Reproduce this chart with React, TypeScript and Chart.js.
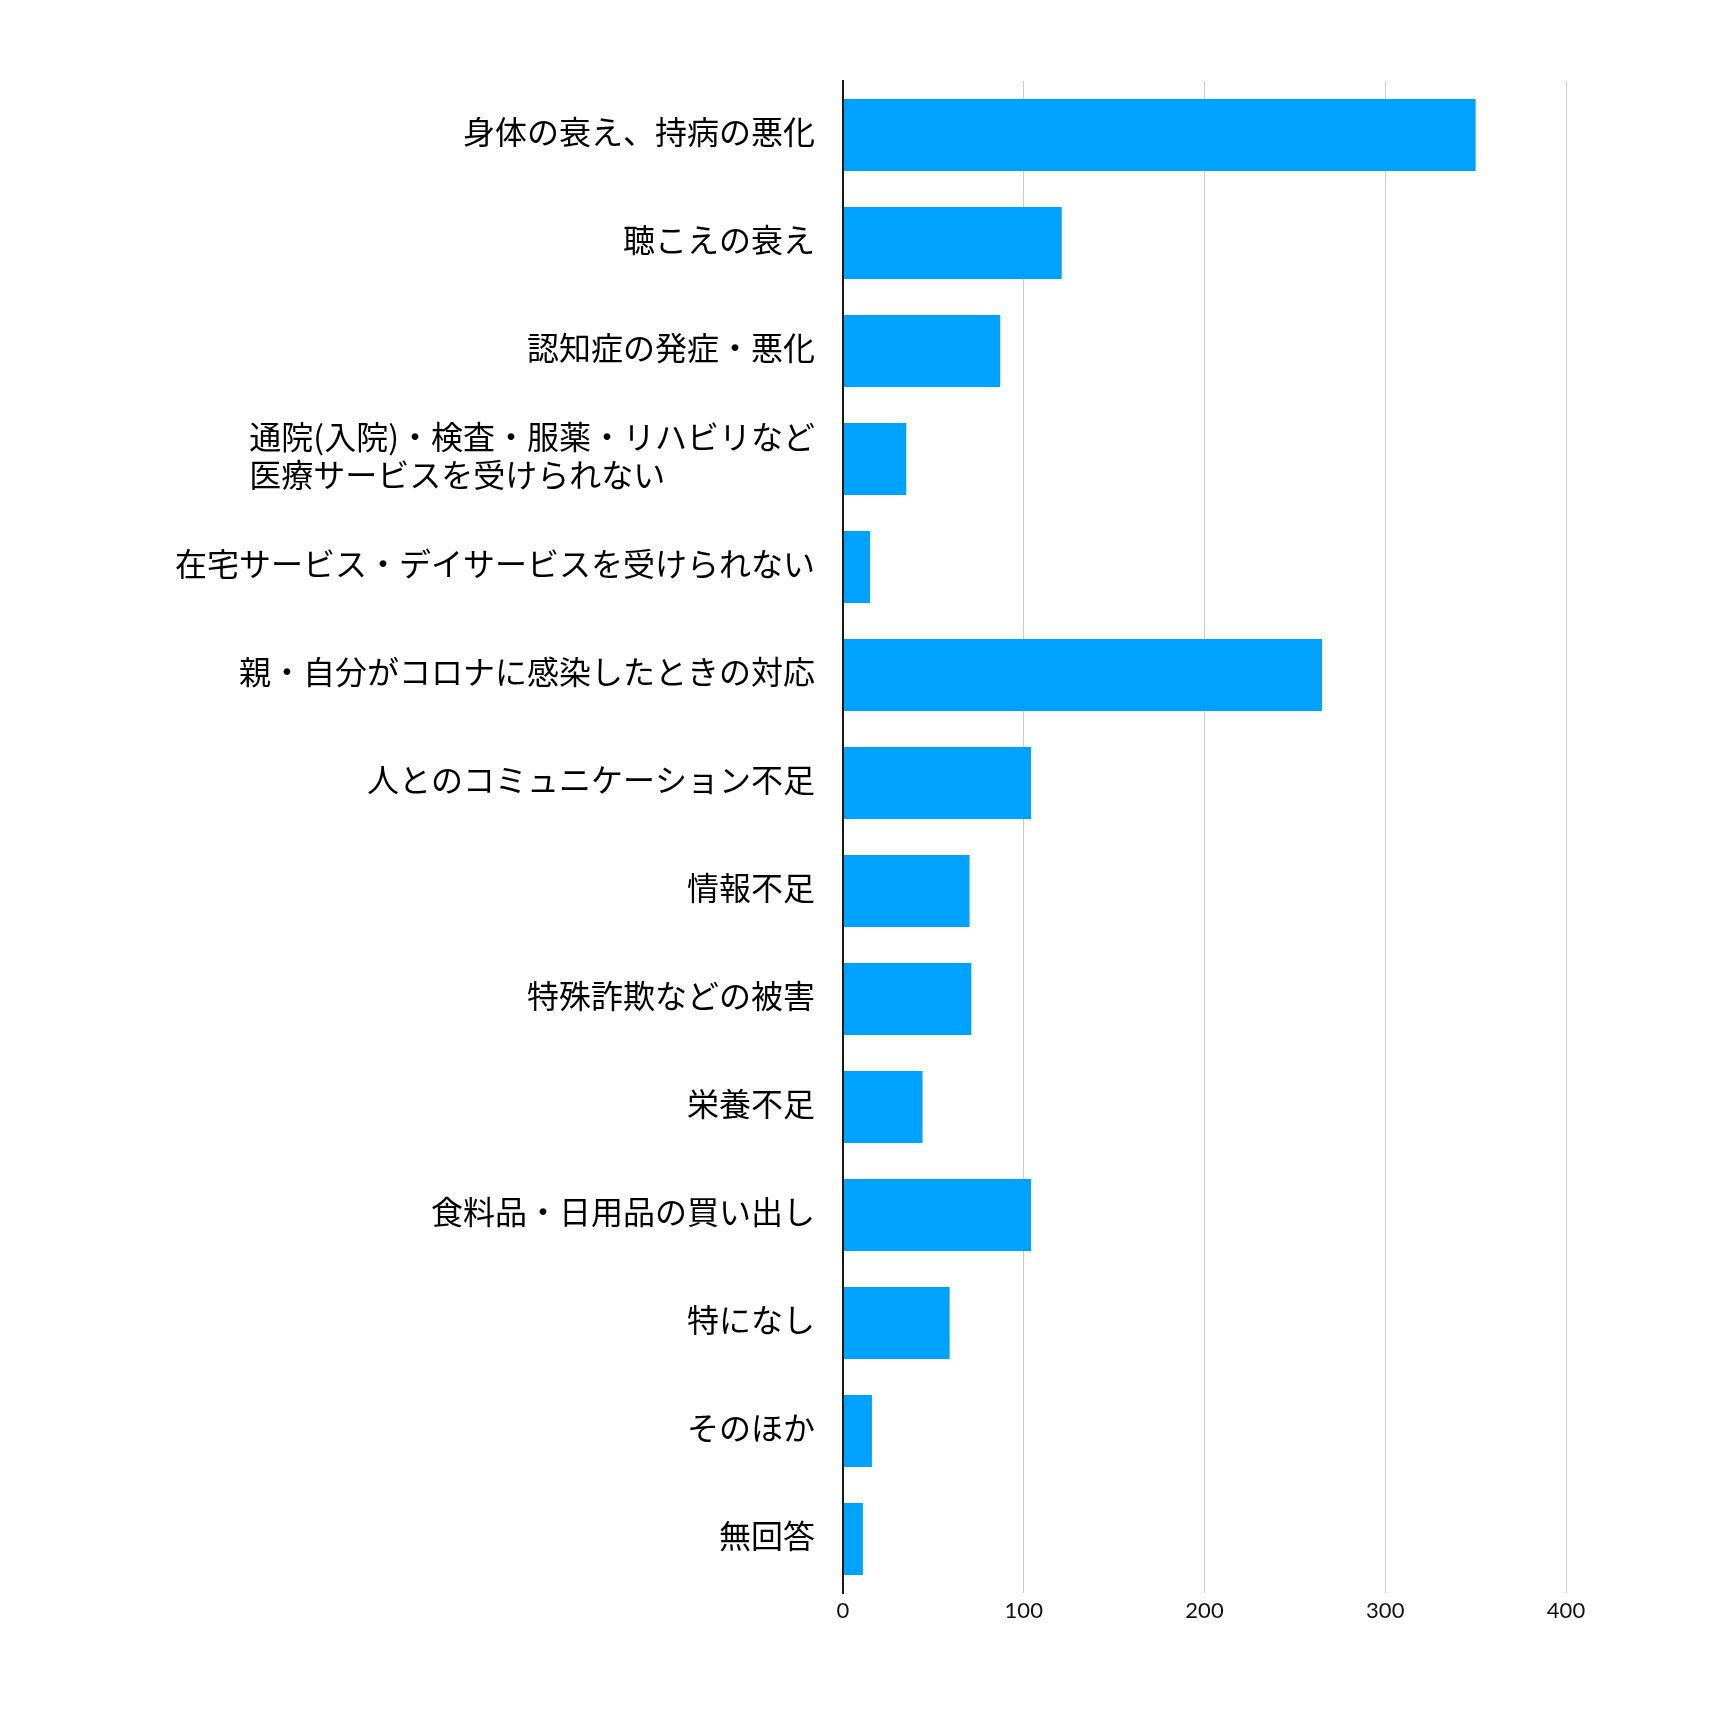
import React, { useEffect, useRef } from "react";
import { Chart, registerables } from "chart.js";

Chart.register(...registerables);

const categories: string[] = [
  "身体の衰え、持病の悪化",
  "聴こえの衰え",
  "認知症の発症・悪化",
  "通院(入院)・検査・服薬・リハビリなど\n医療サービスを受けられない",
  "在宅サービス・デイサービスを受けられない",
  "親・自分がコロナに感染したときの対応",
  "人とのコミュニケーション不足",
  "情報不足",
  "特殊詐欺などの被害",
  "栄養不足",
  "食料品・日用品の買い出し",
  "特になし",
  "そのほか",
  "無回答",
];

const counts: number[] = [350, 121, 87, 35, 15, 265, 104, 70, 71, 44, 104, 59, 16, 11];

const xTicks: number[] = [0, 100, 200, 300, 400];

const BAR_COLOR = "#00A2FF";
const LABEL_FONT = '32px "Noto Sans CJK JP", "Noto Sans", sans-serif';
const LABEL_GAP = 28;
const LABEL_LINE_HEIGHT = 38.4;
const LABEL_Y_SHIFT = -3;

const yLabelPlugin = {
  id: "yLabelsLeftBlock",
  afterDraw(chart: any) {
    const { ctx, chartArea, scales } = chart;
    const yScale = scales.y;
    ctx.save();
    ctx.font = LABEL_FONT;
    ctx.fillStyle = "#000000";
    ctx.textBaseline = "middle";
    ctx.textAlign = "left";
    categories.forEach((lab, i) => {
      const lines = lab.split("\n");
      const w = Math.max(...lines.map((l) => ctx.measureText(l).width));
      const cy = yScale.getPixelForValue(i) + LABEL_Y_SHIFT;
      const x = chartArea.left - LABEL_GAP - w;
      lines.forEach((l, j) => {
        ctx.fillText(l, x, cy + (j - (lines.length - 1) / 2) * LABEL_LINE_HEIGHT);
      });
    });
    ctx.restore();
  },
};

export default function App() {
  const canvasRef = useRef<HTMLCanvasElement | null>(null);

  useEffect(() => {
    if (!canvasRef.current) return;
    const chart = new Chart(canvasRef.current, {
      type: "bar",
      data: {
        labels: categories,
        datasets: [
          {
            data: counts,
            backgroundColor: BAR_COLOR,
            borderWidth: 0,
            categoryPercentage: 1,
            barPercentage: 0.667,
          },
        ],
      },
      options: {
        indexAxis: "y",
        animation: false,
        responsive: true,
        maintainAspectRatio: false,
        layout: { padding: { left: 0, right: 136, top: 73, bottom: 49 } },
        plugins: {
          legend: { display: false },
          tooltip: { enabled: false },
        },
        scales: {
          x: {
            min: 0,
            max: 400,
            afterBuildTicks: (scale: any) => {
              scale.ticks = xTicks.map((v) => ({ value: v }));
            },
            afterFit: (scale: any) => {
              scale.height = 60;
            },
            grid: {
              display: true,
              color: "#cccccc",
              lineWidth: 1,
              drawTicks: false,
            },
            border: { display: false },
            ticks: {
              padding: 5,
              color: "#111111",
              font: { family: "Lato", size: 22 },
            },
          },
          y: {
            afterFit: (scale: any) => {
              scale.width = 835;
            },
            grid: { display: false, drawTicks: false },
            border: { display: true, color: "#1a1a1a", width: 2, z: 1 },
            ticks: { display: false },
          },
        },
      },
      plugins: [yLabelPlugin],
    });
    return () => chart.destroy();
  }, []);

  return (
    <div style={{ width: "1694px", height: "1694px", position: "relative", background: "#ffffff" }}>
      <canvas ref={canvasRef} />
    </div>
  );
}
